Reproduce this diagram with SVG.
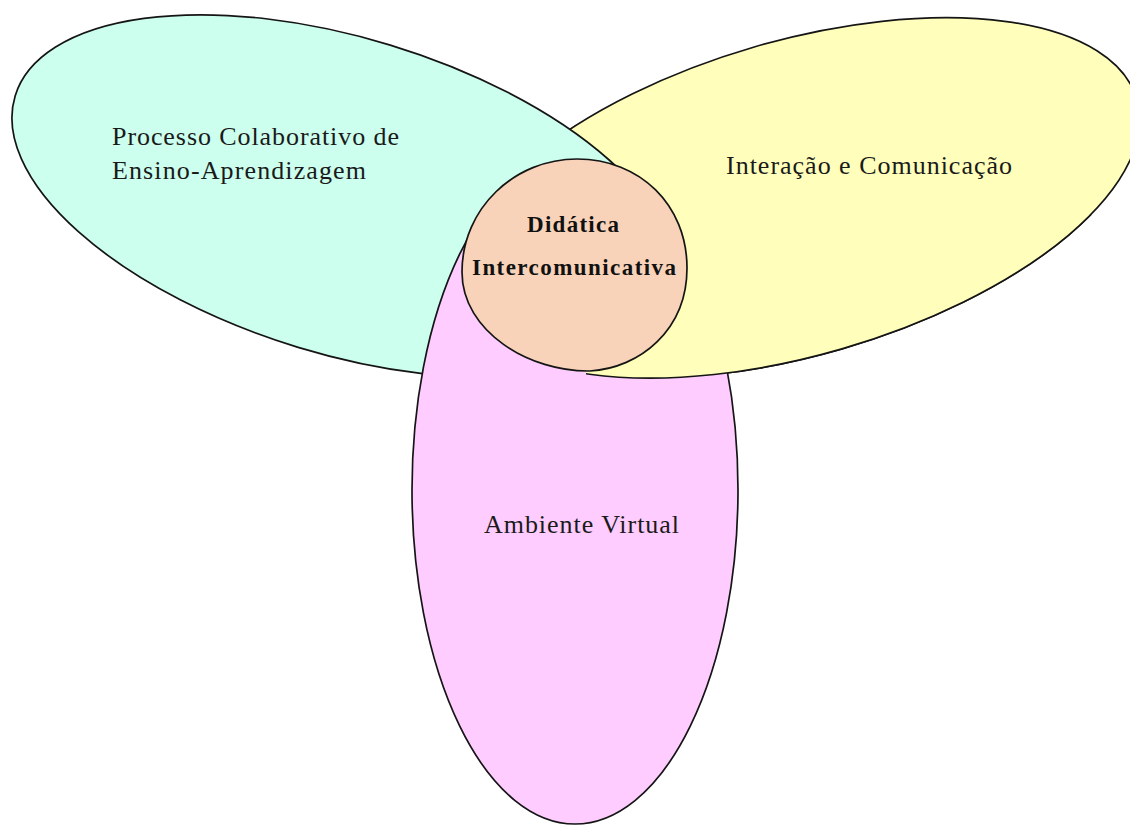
<svg xmlns="http://www.w3.org/2000/svg" xmlns:xlink="http://www.w3.org/1999/xlink" width="1130" height="825" viewBox="0 0 1130 825">
  <style>
    .shape { stroke: #151515; stroke-width: 1.7; }
    .teal { fill: #CCFFEE; }
    .yellow { fill: #FFFFBB; }
    .pink { fill: #FFCCFF; }
    .peach { fill: #F8D3B9; }
    .label { font-family: "Liberation Serif", "Times New Roman", serif; font-size: 26px; fill: #1a1a1a; }
    .core { font-family: "Liberation Serif", "Times New Roman", serif; font-size: 23px; font-weight: bold; fill: #111; }
  </style>
  <defs>
    <ellipse id="yellow-shape" cx="798.1" cy="197.9" rx="352.8" ry="157.2" transform="rotate(-16.2 798.1 197.9)"/>
    <!-- lower right part of the yellow ellipse, which sits above the pink one -->
    <clipPath id="yellow-front-clip">
      <rect x="586" y="215" width="544" height="610"/>
    </clipPath>
    <!-- the top of the pink ellipse stays under the teal and yellow ones -->
    <clipPath id="pink-clip">
      <rect x="0" y="196" width="1130" height="629"/>
    </clipPath>
  </defs>

  <rect width="1130" height="825" fill="#FFFFFF"/>

  <g id="node-interacao">
    <use xlink:href="#yellow-shape" href="#yellow-shape" class="shape yellow"/>
    <text class="label" x="726" y="174" textLength="286" lengthAdjust="spacing">Interação e Comunicação</text>
  </g>

  <g id="node-processo">
    <ellipse class="shape teal" cx="344.2" cy="196.2" rx="344" ry="158" transform="rotate(16.95 344.2 196.2)"/>
    <text class="label" x="112" y="145" textLength="287" lengthAdjust="spacing">Processo Colaborativo de</text>
    <text class="label" x="112" y="179" textLength="254" lengthAdjust="spacing">Ensino-Aprendizagem</text>
  </g>

  <g id="node-ambiente">
    <ellipse class="shape pink" cx="575" cy="490" rx="163" ry="334" clip-path="url(#pink-clip)"/>
    <text class="label" x="484" y="533" textLength="195" lengthAdjust="spacing">Ambiente Virtual</text>
  </g>

  <g id="node-interacao-front" clip-path="url(#yellow-front-clip)">
    <use xlink:href="#yellow-shape" href="#yellow-shape" class="shape yellow"/>
  </g>

  <g id="node-didatica">
    <path class="shape peach" d="M577,159 C640,159 687,205 687,268 C687,330 640,368 590,371 C530,372 462,332 462,272 C462,208 515,159 577,159 Z"/>
    <text class="core" x="527" y="232" textLength="92" lengthAdjust="spacing">Didática</text>
    <text class="core" x="472" y="275" textLength="204" lengthAdjust="spacing">Intercomunicativa</text>
  </g>
</svg>
